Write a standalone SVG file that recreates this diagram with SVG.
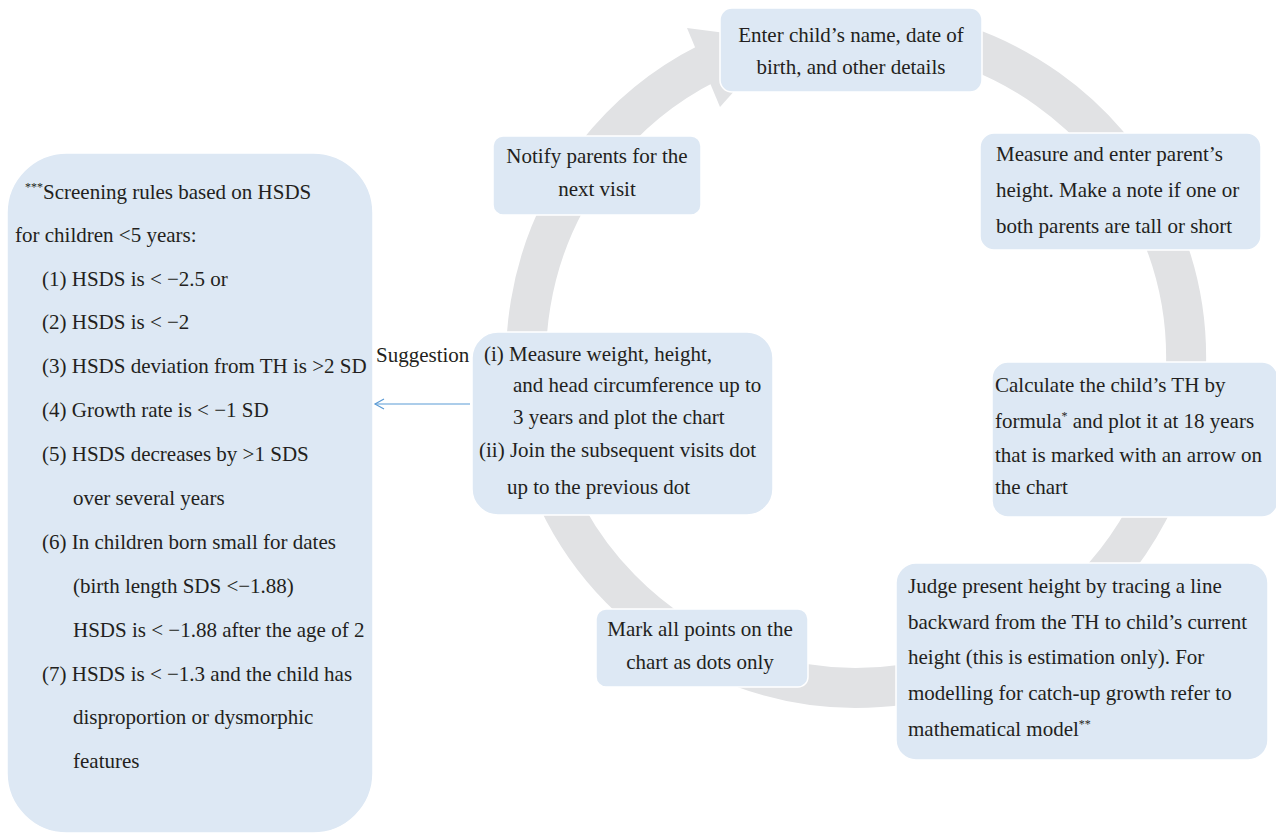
<svg xmlns="http://www.w3.org/2000/svg" width="1276" height="834" viewBox="0 0 1276 834">
<defs>
<style>
.box{fill:#dde8f4;stroke:#ffffff;stroke-width:1.5}
.t{font-family:"Liberation Serif","Times New Roman",serif;font-size:21px;fill:#231f20}
.c{text-anchor:middle}
.sup{font-size:12px}
</style>
<marker id="open" markerWidth="12" markerHeight="12" refX="10" refY="6" orient="auto" markerUnits="userSpaceOnUse">
<path d="M1,1 L10,6 L1,11" fill="none" stroke="#5b9bd5" stroke-width="1.2"/>
</marker>
</defs>
<rect width="1276" height="834" fill="#ffffff"/>
<g id="cycle-ring">
<path d="M 914 33 A 330 330 0 1 1 708 63" fill="none" stroke="#e1e2e4" stroke-width="40"/>
<path d="M 687 28 L 780 40 L 720 107 Z" fill="#e1e2e4"/>
</g>
<g id="connectors">
<line x1="470" y1="404" x2="375" y2="404" stroke="#5b9bd5" stroke-width="1.2" marker-end="url(#open)"/>
<text class="t" x="376" y="362">Suggestion</text>
</g>
<g id="node-enter">
<rect class="box" x="720" y="8" width="262" height="84" rx="12"/>
<text class="t c" x="851" y="42">Enter child’s name, date of</text>
<text class="t c" x="851" y="74">birth, and other details</text>
</g>
<g id="node-parents">
<rect class="box" x="980" y="133" width="281" height="117" rx="14"/>
<text class="t" x="996" y="161">Measure and enter parent’s</text>
<text class="t" x="996" y="197">height. Make a note if one or</text>
<text class="t" x="996" y="233">both parents are tall or short</text>
</g>
<g id="node-th">
<rect class="box" x="992" y="362" width="286" height="155" rx="16"/>
<text class="t" x="995" y="392">Calculate the child’s TH by</text>
<text class="t" x="995" y="428">formula<tspan class="sup" dy="-8">*</tspan><tspan dy="8"> and plot it at 18 years</tspan></text>
<text class="t" x="995" y="462">that is marked with an arrow on</text>
<text class="t" x="995" y="494">the chart</text>
</g>
<g id="node-judge">
<rect class="box" x="896" y="563" width="372" height="197" rx="20"/>
<text class="t" x="908" y="593">Judge present height by tracing a line</text>
<text class="t" x="908" y="629">backward from the TH to child’s current</text>
<text class="t" x="908" y="664">height (this is estimation only). For</text>
<text class="t" x="908" y="700">modelling for catch-up growth refer to</text>
<text class="t" x="908" y="736">mathematical model<tspan class="sup" dy="-8">**</tspan></text>
</g>
<g id="node-mark">
<rect class="box" x="596" y="609" width="212" height="78" rx="10"/>
<text class="t c" x="700" y="636">Mark all points on the</text>
<text class="t c" x="700" y="669">chart as dots only</text>
</g>
<g id="node-measure">
<rect class="box" x="472" y="332" width="301" height="183" rx="26"/>
<text class="t" x="484" y="361">(i) Measure weight, height,</text>
<text class="t" x="513" y="392">and head circumference up to</text>
<text class="t" x="513" y="424">3 years and plot the chart</text>
<text class="t" x="479" y="457">(ii) Join the subsequent visits dot</text>
<text class="t" x="507" y="494">up to the previous dot</text>
</g>
<g id="node-notify">
<rect class="box" x="493" y="136" width="208" height="79" rx="10"/>
<text class="t c" x="597" y="163">Notify parents for the</text>
<text class="t c" x="597" y="196">next visit</text>
</g>
<g id="node-rules">
<rect class="box" x="7" y="153" width="366" height="680" rx="60"/>
<text class="t" x="25" y="199"><tspan class="sup" dy="-8">***</tspan><tspan dy="8">Screening rules based on HSDS</tspan></text>
<text class="t" x="15" y="242">for children &lt;5 years:</text>
<text class="t" x="42" y="286">(1) HSDS is &lt; −2.5 or</text>
<text class="t" x="42" y="329">(2) HSDS is &lt; −2</text>
<text class="t" x="42" y="373">(3) HSDS deviation from TH is &gt;2 SD</text>
<text class="t" x="42" y="417">(4) Growth rate is &lt; −1 SD</text>
<text class="t" x="42" y="461">(5) HSDS decreases by &gt;1 SDS</text>
<text class="t" x="73" y="505">over several years</text>
<text class="t" x="42" y="549">(6) In children born small for dates</text>
<text class="t" x="73" y="593">(birth length SDS &lt;−1.88)</text>
<text class="t" x="73" y="637">HSDS is &lt; −1.88 after the age of 2</text>
<text class="t" x="42" y="681">(7) HSDS is &lt; −1.3 and the child has</text>
<text class="t" x="73" y="724">disproportion or dysmorphic</text>
<text class="t" x="73" y="768">features</text>
</g>
</svg>
